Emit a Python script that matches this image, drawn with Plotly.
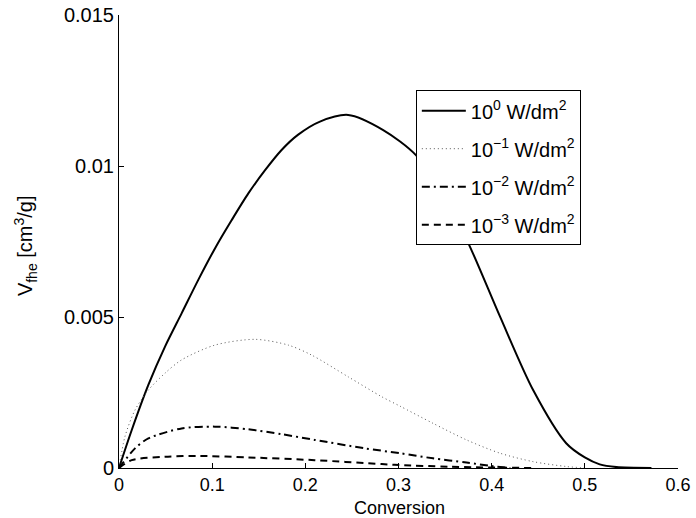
import plotly.graph_objects as go

# 10^0 W/dm2
x_p0 = [0, 0.0136, 0.0315, 0.0494, 0.0672, 0.0851, 0.103, 0.121, 0.139, 0.157, 0.1745, 0.192, 0.2157, 0.246, 0.2836,
        0.3187, 0.35, 0.375, 0.409, 0.4445, 0.480, 0.500, 0.516, 0.534, 0.5715]
y_p0 = [0, 0.00125, 0.00275, 0.00402, 0.00512, 0.00623, 0.00727, 0.00821, 0.00910, 0.00987, 0.01053, 0.01103, 0.01147, 0.01169, 0.01119,
        0.01036, 0.0089, 0.00744, 0.00501, 0.00258, 0.00082, 0.00035, 0.00012, 0.00003, 0.0]

# 10^-1 W/dm2
x_p1 = [0, 0.0064, 0.0172, 0.0315, 0.0494, 0.0672, 0.103, 0.146, 0.1817, 0.2067, 0.246, 0.282, 0.3015, 0.337, 0.373, 0.409, 0.4445, 0.480, 0.502]
y_p1 = [0, 0.00104, 0.00192, 0.00258, 0.00314, 0.00358, 0.00407, 0.00426, 0.00407, 0.00374, 0.00302, 0.00236, 0.00205, 0.00148, 0.00093, 0.00049, 0.00021, 0.00005, 0.0]

# 10^-2 W/dm2
x_p2 = [0, 0.0172, 0.0315, 0.0672, 0.103, 0.139, 0.1745, 0.210, 0.264, 0.3015, 0.337, 0.373, 0.401, 0.42]
y_p2 = [0, 0.00065, 0.00098, 0.00131, 0.00137, 0.00128, 0.00112, 0.00093, 0.00065, 0.00049, 0.00032, 0.00018, 0.00006, 0.0]

# 10^-3 W/dm2
x_p3 = [0, 0.0136, 0.0494, 0.0851, 0.139, 0.210, 0.282, 0.3015, 0.355, 0.4445]
y_p3 = [0, 0.00026, 0.00037, 0.0004, 0.00035, 0.00026, 0.00013, 0.0001, 0.00004, 0.0]

names = ["10<sup>0</sup> W/dm<sup>2</sup>", "10<sup>\u22121</sup> W/dm<sup>2</sup>",
         "10<sup>\u22122</sup> W/dm<sup>2</sup>", "10<sup>\u22123</sup> W/dm<sup>2</sup>"]

x_ticks = [0, 0.1, 0.2, 0.3, 0.4, 0.5, 0.6]
x_ticktext = ["0", "0.1", "0.2", "0.3", "0.4", "0.5", "0.6"]
y_ticks = [0, 0.005, 0.01, 0.015]
y_ticktext = ["0", "0.005", "0.01", "0.015"]

x_title = "Conversion"
y_title = "V<sub>fhe</sub> [cm<sup>3</sup>/g]"

series = [(x_p0, y_p0), (x_p1, y_p1), (x_p2, y_p2), (x_p3, y_p3)]
styles = [dict(color="black", width=2, dash="solid"),
          dict(color="#555555", width=1, dash="1px,3px"),
          dict(color="black", width=2, dash="8px,4px,2px,4px"),
          dict(color="black", width=2, dash="7px,5px")]

fig = go.Figure()
for i, ((xs, ys), nm, st) in enumerate(zip(series, names, styles)):
    fig.add_trace(go.Scatter(x=xs, y=ys, mode="lines", name=nm, legendgroup=f"g{i}",
                             line=dict(shape="spline", smoothing=0.8, **st)))

FAM = "Liberation Sans, Arial, sans-serif"
FS = 20
FSX = 18
fig.update_layout(
    width=696, height=518,
    margin=dict(l=119, r=18, t=15, b=50),
    paper_bgcolor="white", plot_bgcolor="white",
    font=dict(family=FAM, size=FS, color="black"),
    showlegend=True,
    legend=dict(x=0.531, y=0.834, xanchor="left", yanchor="top",
                bgcolor="white", bordercolor="black", borderwidth=1,
                font=dict(family=FAM, size=FS, color="black"),
                tracegroupgap=9, itemwidth=44),
    xaxis=dict(range=[0, 0.6], tickvals=x_ticks, ticktext=x_ticktext, automargin=False,
               showline=True, linecolor="black", linewidth=1, mirror=False,
               ticks="inside", ticklen=5, tickcolor="black", showgrid=False, zeroline=False,
               tickfont=dict(size=FSX)),
    yaxis=dict(range=[0, 0.015], tickvals=y_ticks, ticktext=y_ticktext, automargin=False,
               showline=True, linecolor="black", linewidth=1, mirror=False,
               ticks="inside", ticklen=5, tickcolor="black", showgrid=False, zeroline=False,
               tickfont=dict(size=FS)),
    annotations=[
        dict(text=x_title, xref="paper", yref="paper", x=0.501, y=-0.0883,
             xanchor="center", yanchor="middle", showarrow=False, font=dict(size=FSX)),
        dict(text=y_title, xref="paper", yref="paper", x=-0.168, y=0.49, textangle=-90,
             xanchor="center", yanchor="middle", showarrow=False, font=dict(size=FS)),
    ],
)
fig.write_html("out.html")
